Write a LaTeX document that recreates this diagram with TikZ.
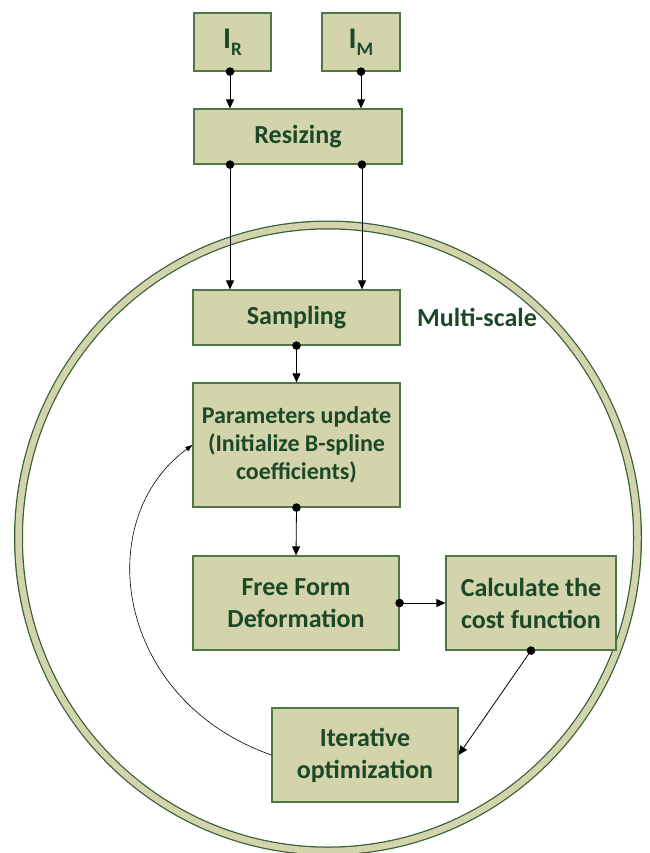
\documentclass[tikz,border=0pt]{standalone}
\usepackage{fontspec}
\setmainfont{Carlito}
\usetikzlibrary{arrows.meta}
\definecolor{tanfill}{RGB}{211,212,171}
\definecolor{boxline}{RGB}{78,118,72}
\definecolor{txtgreen}{RGB}{28,72,40}
\definecolor{ringline}{RGB}{55,95,55}
\begin{document}
\begin{tikzpicture}[x=1pt,y=-1pt,
  box/.style={draw=boxline, line width=1.2pt, fill=tanfill, text=txtgreen,
    font=\bfseries\fontsize{26}{32}\selectfont, align=center, inner sep=0pt},
  conn/.style={draw=black, line width=0.8pt,
    {Circle[length=8.5pt]}-{Triangle[length=9pt,width=8pt]}, shorten <=-4.25pt}
]
\useasboundingbox (0,0) rectangle (649,853);
% ring
\draw[ringline, line width=9pt] (328,538) ellipse [x radius=309.5, y radius=313];
\draw[tanfill, line width=6.5pt] (328,538) ellipse [x radius=309.5, y radius=313];
% nodes
\node[box, minimum width=77pt, minimum height=58pt] (IR) at (232.5,42)
  {\fontsize{30}{32}\selectfont I\raisebox{-0.22em}{\fontsize{19}{20}\selectfont R}};
\node[box, minimum width=78pt, minimum height=58pt] (IM) at (361,42)
  {\fontsize{30}{32}\selectfont I\raisebox{-0.22em}{\fontsize{19}{20}\selectfont M}};
\node[box, minimum width=208pt, minimum height=55pt] (RS) at (298,136.5) {Resizing};
\node[box, minimum width=207pt, minimum height=55pt] (SA) at (296.5,317.5) {Sampling};
\node[box, minimum width=207pt, minimum height=124pt, font=\bfseries\fontsize{24}{28}\selectfont] (PU) at (296.5,445)
  {Parameters update\\(Initialize B-spline\\coefficients)};
\node[box, minimum width=206pt, minimum height=94pt] (FF) at (296,603) {Free Form\\Deformation};
\node[box, minimum width=170pt, minimum height=94pt] (CF) at (531,603) {Calculate the\\cost function};
\node[box, minimum width=186pt, minimum height=94pt] (IO) at (365,755) {Iterative\\optimization};
\node[text=txtgreen, font=\bfseries\fontsize{26}{32}\selectfont, anchor=west, inner sep=0pt] (MS) at (417,317.5) {Multi-scale};
% connectors
\draw[conn] (IR.south -| 230,0) -- (RS.north -| 230,0);
\draw[conn] (IM.south) -- (RS.north -| IM.south);
\draw[conn] (RS.south -| 230,0) -- (SA.north -| 230,0);
\draw[conn] (RS.south -| 362,0) -- (SA.north -| 362,0);
\draw[conn] (SA.south) -- (PU.north);
\draw[conn] (PU.south) -- (FF.north);
\draw[conn] (FF.east) -- (CF.west);
\draw[conn] (CF.south) -- (IO.east);
\draw[line width=0.6pt, -{Triangle[length=7pt,width=5pt]}] (IO.west) .. controls (115,700) and (90,520) .. (PU.west);
\end{tikzpicture}
\end{document}
